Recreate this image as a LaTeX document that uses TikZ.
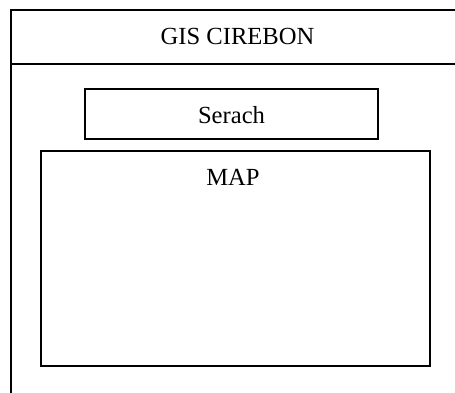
\documentclass[tikz,border=0pt]{standalone}
\usepackage{fontspec}
\setmainfont{Liberation Serif}
\begin{document}
\begin{tikzpicture}[x=1pt,y=-1pt,
  box/.style={draw=black,line width=1.4pt,inner sep=0pt,outer sep=0pt},
  lbl/.style={font=\fontsize{24.6}{28}\selectfont,inner sep=0pt}]
\useasboundingbox (0,0) rectangle (455,392);
\clip (0,0) rectangle (455,392);
\node[box,anchor=north west,minimum width=470pt,minimum height=400pt] (frame) at (11,10) {};
\coordinate (hl) at (11,64);
\coordinate (hr) at (481,64);
\draw[line width=1.4pt] (hl) -- (hr);
\node[lbl,anchor=base] (title) at (237.5,44) {GIS CIREBON};
\node[box,minimum width=293pt,minimum height=50pt] (search) at (231.5,114) {};
\node[lbl,anchor=base] (searchlbl) at (search.center |- 0,123) {Serach};
\node[box,minimum width=389pt,minimum height=215pt] (map) at (235.5,258.5) {};
\node[lbl,anchor=base] (maplbl) at (233,185) {MAP};
\end{tikzpicture}
\end{document}
